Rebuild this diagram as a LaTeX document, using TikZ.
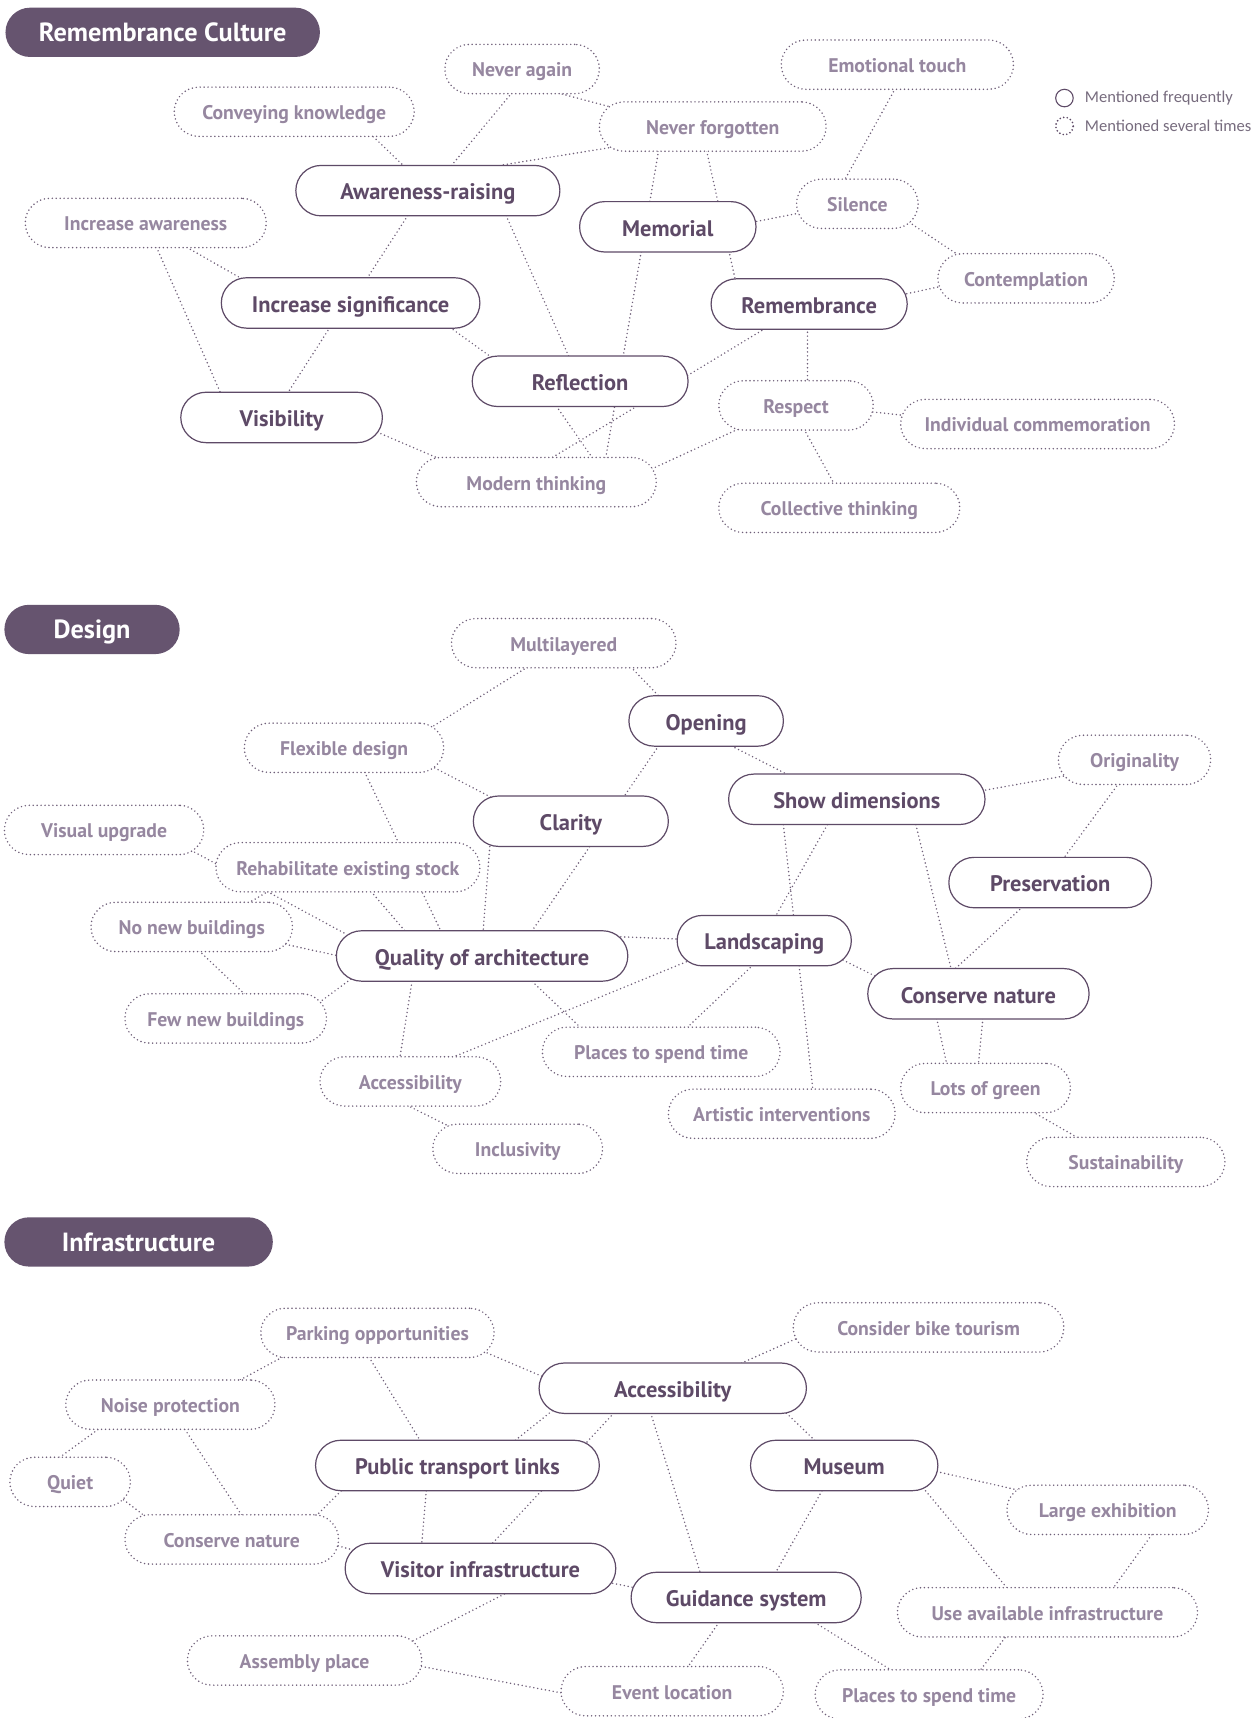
\documentclass[tikz,border=0pt]{standalone}
\usepackage{fontspec}
\setmainfont{PT Sans}
\newfontfamily\legendfont{Carlito}
\usetikzlibrary{calc}
\pgfdeclarelayer{bg}
\pgfdeclarelayer{edges}
\pgfsetlayers{bg,edges,main}

\definecolor{plum}{HTML}{5E4A67}
\definecolor{plumfill}{HTML}{66546F}
\definecolor{mauve}{HTML}{9687A0}
\definecolor{dotc}{HTML}{6F5F79}
\definecolor{legendc}{HTML}{776C7E}

\tikzset{
  major/.style={draw=plum, line width=1.1pt, fill=white, rounded corners=23pt,
    minimum height=46pt, inner sep=0pt, text=plum, text height=17pt, text depth=0pt,
    font=\bfseries\fontsize{20.5}{24}\selectfont},
  minor/.style={draw=dotc, line width=1.5pt, dash pattern=on 0pt off 3.6pt,
    line cap=round, fill=white, rounded corners=22.5pt, minimum height=45pt,
    inner sep=0pt, text=mauve, text height=14.5pt, text depth=0pt,
    font=\bfseries\fontsize{18}{21}\selectfont},
  heading/.style={fill=plumfill, rounded corners=22.5pt, minimum height=45pt,
    inner sep=0pt, text=white, text height=17pt, text depth=0pt,
    font=\bfseries\fontsize{24}{28}\selectfont},
  link/.style={draw=dotc, line width=1.5pt, dash pattern=on 0pt off 3.6pt,
    line cap=round, shorten <=-4pt, shorten >=-4pt},
  legendtext/.style={anchor=west, inner sep=0pt, text=legendc,
    font=\legendfont\fontsize{15.1}{18}\selectfont}
}
% connector between two nodes, each end given as an offset from the node centre
\newcommand\lk[4]{\draw[link] ($(#1)+(#2)$) -- ($(#3)+(#4)$);}

\begin{document}
\begin{tikzpicture}[x=1pt,y=-1pt]
\useasboundingbox (0,0) rectangle (1146,1568);
\begin{pgfonlayer}{bg}
\fill[white] (0,0) rectangle (1146,1568);
\end{pgfonlayer}

% ---------------- Remembrance Culture ----------------
\node[heading, minimum width=287pt] (t1) at (148.5,29.5) {Remembrance Culture};

\node[circle, draw=plum, line width=1pt, minimum size=16pt, inner sep=0pt] (lc1) at (971.5,89.5) {};
\node[circle, draw=plum, line width=1.7pt, dash pattern=on 0pt off 3.3pt, line cap=round,
  minimum size=16pt, inner sep=0pt] (lc2) at (971.5,115) {};
\node[legendtext] (lt1) at (990,89.5) {Mentioned frequently};
\node[legendtext] (lt2) at (990,115) {Mentioned several times};

\node[major, minimum width=241pt] (ar)   at (390.5,174)   {Awareness-raising};
\node[major, minimum width=161pt] (mem)  at (609.5,207)   {Memorial};
\node[major, minimum width=236pt] (is)   at (320,276.5)   {Increase significance};
\node[major, minimum width=179pt] (rem)  at (738.5,277.5) {Remembrance};
\node[major, minimum width=197pt] (refl) at (529.5,348)   {Reflection};
\node[major, minimum width=184pt] (vis)  at (257,381)     {Visibility};

\node[minor, minimum width=219pt] (ck)   at (268.5,102)   {Conveying knowledge};
\node[minor, minimum width=141pt] (na)   at (476.5,63)    {Never again};
\node[minor, minimum width=212pt] (et)   at (819,59)      {Emotional touch};
\node[minor, minimum width=207pt] (nf)   at (650.5,115.5) {Never forgotten};
\node[minor, minimum width=111pt] (sil)  at (782.5,186)   {Silence};
\node[minor, minimum width=161pt] (con)  at (936.5,254)   {Contemplation};
\node[minor, minimum width=220pt] (ia)   at (133,203.5)   {Increase awareness};
\node[minor, minimum width=141pt] (resp) at (726.5,370)   {Respect};
\node[minor, minimum width=250pt] (ic)   at (947,387)     {Individual commemoration};
\node[minor, minimum width=219pt] (mt)   at (489.5,440)   {Modern thinking};
\node[minor, minimum width=220pt] (ct)   at (766,463.5)   {Collective thinking};

% ---------------- Design ----------------
\node[heading, minimum width=160pt] (t2) at (84,574.5) {Design};

\node[major, minimum width=141pt] (op)   at (644.5,658)   {Opening};
\node[major, minimum width=178pt] (cl)   at (521,749.5)   {Clarity};
\node[major, minimum width=234pt] (sd)   at (782,729.5)   {Show dimensions};
\node[major, minimum width=185pt] (pres) at (958.5,805.5) {Preservation};
\node[major, minimum width=266pt] (qoa)  at (440,872.5)   {Quality of architecture};
\node[major, minimum width=159pt] (ls)   at (697.5,858.5) {Landscaping};
\node[major, minimum width=202pt] (cnb)  at (893,907)     {Conserve nature};

\node[minor, minimum width=205pt] (ml)   at (514.5,587)   {Multilayered};
\node[minor, minimum width=182pt] (fd)   at (314,682.5)   {Flexible design};
\node[minor, minimum width=139pt] (ori)  at (1035.5,693.5){Originality};
\node[minor, minimum width=182pt] (vu)   at (95,757.5)    {Visual upgrade};
\node[minor, minimum width=241pt] (rh)   at (317.5,791.5) {Rehabilitate existing stock};
\node[minor, minimum width=184pt] (nnb)  at (175,846)     {No new buildings};
\node[minor, minimum width=184pt] (fnb)  at (206,929.5)   {Few new buildings};
\node[minor, minimum width=165pt] (accb) at (374.5,987)   {Accessibility};
\node[minor, minimum width=217pt] (pstb) at (603.5,960)   {Places to spend time};
\node[minor, minimum width=207pt] (art)  at (713.5,1016.5){Artistic interventions};
\node[minor, minimum width=155pt] (log)  at (899.5,993)   {Lots of green};
\node[minor, minimum width=181pt] (sus)  at (1027.5,1060.5){Sustainability};
\node[minor, minimum width=155pt] (inc)  at (472.5,1048.5){Inclusivity};

% ---------------- Infrastructure ----------------
\node[heading, minimum width=245pt] (t3) at (126.5,1133.5) {Infrastructure};

\node[major, minimum width=244pt] (acc)  at (614,1267)    {Accessibility};
\node[major, minimum width=259pt] (pt)   at (417.5,1337.5){Public transport links};
\node[major, minimum width=171pt] (mus)  at (770.5,1337.5){Museum};
\node[major, minimum width=247pt] (vi)   at (438.5,1431.5){Visitor infrastructure};
\node[major, minimum width=210pt] (gs)   at (681,1458)    {Guidance system};

\node[minor, minimum width=213pt] (park) at (344.5,1216.5){Parking opportunities};
\node[minor, minimum width=247pt] (bike) at (847.5,1211.5){Consider bike tourism};
\node[minor, minimum width=191pt] (np)   at (155.5,1282)  {Noise protection};
\node[minor, minimum width=110pt] (qu)   at (64,1352.5)   {Quiet};
\node[minor, minimum width=184pt] (le)   at (1011,1378)   {Large exhibition};
\node[minor, minimum width=195pt] (cnc)  at (211.5,1405)  {Conserve nature};
\node[minor, minimum width=274pt] (uai)  at (956,1471.5)  {Use available infrastructure};
\node[minor, minimum width=214pt] (ap)   at (278,1515.5)  {Assembly place};
\node[minor, minimum width=203pt] (el)   at (613.5,1543.5){Event location};
\node[minor, minimum width=208pt] (pstc) at (848,1546.5)  {Places to spend time};

\begin{pgfonlayer}{edges}
% Remembrance Culture
\lk{ck}{72.5,23}{ar}{-23.5,-24}
\lk{na}{-9.5,22}{ar}{22.5,-24}
\lk{na}{33.5,22}{nf}{-95.5,-18.5}
\lk{nf}{-95.5,19.5}{ar}{71.5,-24}
\lk{nf}{-49.5,22.5}{mt}{63.5,-23}
\lk{nf}{-5.5,22.5}{rem}{-67.5,-22.5}
\lk{et}{-2,22}{sil}{-11.5,-22}
\lk{mem}{81.5,-5}{sil}{-55.5,9}
\lk{sil}{47.5,17}{con}{-64.5,-23}
\lk{rem}{89.5,-9.5}{con}{-80.5,8}
\lk{rem}{-40.5,22.5}{mt}{15.5,-23}
\lk{rem}{-1.5,22.5}{resp}{10.5,-22}
\lk{ar}{-18.5,23}{is}{15,-22.5}
\lk{ar}{71.5,23}{refl}{-10.5,-23}
\lk{ia}{38,22.5}{is}{-100,-22.5}
\lk{ia}{10,22.5}{vis}{-56,-23}
\lk{is}{-19,22.5}{vis}{6,-23}
\lk{is}{91,22.5}{refl}{-82.5,-23}
\lk{refl}{-21.5,23}{mt}{50.5,-23}
\lk{vis}{91,15}{mt}{-92.5,-23}
\lk{resp}{70.5,6}{ic}{-123,-8}
\lk{resp}{7.5,22}{ct}{-5,-22.5}
\lk{resp}{-53.5,22}{mt}{107.5,-13}
% Design
\lk{ml}{-33.5,22}{fd}{81,-19.5}
\lk{ml}{61.5,22}{op}{-43.5,-23}
\lk{fd}{83,18.5}{cl}{-74,-22.5}
\lk{fd}{19,22.5}{qoa}{-38,-23.5}
\lk{vu}{83,20.5}{qoa}{-127,-21.5}
\lk{nnb}{52,-22}{rh}{-73.5,22.5}
\lk{rh}{21.5,22.5}{qoa}{-71,-23.5}
\lk{nnb}{86,16}{qoa}{-133,-0.5}
\lk{nnb}{7,22}{fnb}{18,-21.5}
\lk{qoa}{-123,23.5}{fnb}{88,-16.5}
\lk{cl}{-74,23.5}{qoa}{1,-23.5}
\lk{op}{-43.5,23}{qoa}{46,-23.5}
\lk{op}{23.5,23}{sd}{-65,-23.5}
\lk{sd}{118,-8.5}{ori}{-68.5,15.5}
\lk{ori}{-14.5,21.5}{pres}{12.5,-22.5}
\lk{sd}{-67,23.5}{art}{28.5,-21.5}
\lk{sd}{-27,23.5}{ls}{10.5,-22.5}
\lk{sd}{54,23.5}{cnb}{-25,-23}
\lk{pres}{-25.5,22.5}{cnb}{-21,-23}
\lk{qoa}{127,-17.5}{ls}{-79.5,-1.5}
\lk{ls}{-71.5,19.5}{accb}{38.5,-22}
\lk{ls}{-10.5,22.5}{pstb}{24.5,-23}
\lk{ls}{75.5,19.5}{cnb}{-96,-17}
\lk{qoa}{46,23.5}{pstb}{-74.5,-23}
\lk{qoa}{-64,23.5}{accb}{-9.5,-22}
\lk{accb}{-2.5,22}{inc}{-64.5,-21.5}
\lk{cnb}{-38,23}{log}{-35.5,-22}
\lk{cnb}{4,23}{log}{-6.5,-22}
\lk{log}{43.5,22}{sus}{-44.5,-22.5}
% Infrastructure
\lk{park}{-87.5,22.5}{np}{64.5,-23}
\lk{park}{-7.5,22.5}{pt}{-34.5,-23.5}
\lk{park}{100.5,18.5}{acc}{-122,-12}
\lk{acc}{-113,23}{pt}{53.5,-23.5}
\lk{acc}{-54,23}{vi}{11.5,-23.5}
\lk{acc}{63,-23}{bike}{-123.5,11.5}
\lk{acc}{104,23}{mus}{-27.5,-23.5}
\lk{acc}{-20,23}{gs}{-42,-23}
\lk{np}{-66.5,23}{qu}{-8,-23.5}
\lk{np}{13.5,23}{cnc}{8.5,-23}
\lk{qu}{49,16.5}{cnc}{-81.5,-23}
\lk{pt}{-106.5,23.5}{cnc}{78.5,-23}
\lk{cnc}{97.5,6}{vi}{-118.5,-17.5}
\lk{pt}{-28.5,23.5}{vi}{-53.5,-23.5}
\lk{vi}{110.5,11.5}{gs}{-107,-10}
\lk{vi}{21.5,23.5}{ap}{102,-19.5}
\lk{ap}{107,5.5}{el}{-101.5,1.5}
\lk{mus}{-20.5,23.5}{gs}{27,-23}
\lk{mus}{88.5,6.5}{le}{-86,-19}
\lk{mus}{74.5,23.5}{uai}{-38,-23.5}
\lk{le}{40,23}{uai}{61,-23.5}
\lk{uai}{-39,23.5}{pstc}{47,-22.5}
\lk{gs}{63,23}{pstc}{-35,-22.5}
\lk{gs}{-25,23}{el}{14.5,-22.5}
\end{pgfonlayer}
\end{tikzpicture}
\end{document}
